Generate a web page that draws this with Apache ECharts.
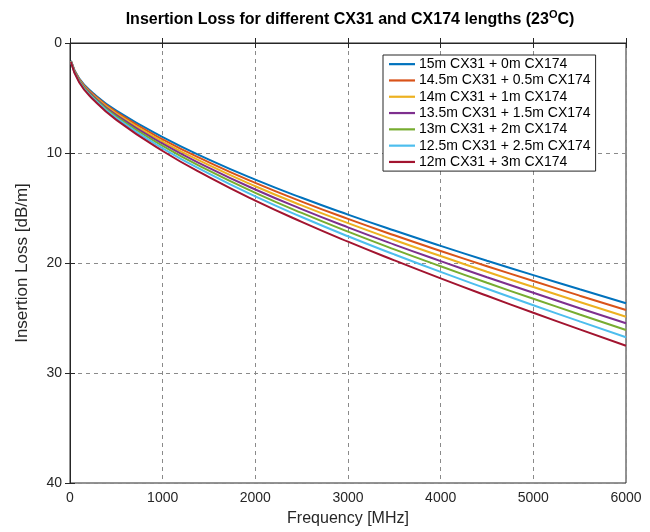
<!DOCTYPE html>
<html>
<head>
<meta charset="utf-8">
<script src="https://cdn.jsdelivr.net/npm/echarts@6/dist/echarts.min.js"></script>
<style>html,body{margin:0;padding:0;background:#fff;}#c{width:650px;height:532px;}</style>
</head>
<body>
<div id="c"></div>
<script>
const freqs = [10, 100, 250, 500, 1000, 1500, 2000, 2500, 3000, 3500, 4000, 4500, 5000, 5500, 6000];
const seriesNames = [
  '15m CX31 + 0m CX174',
  '14.5m CX31 + 0.5m CX174',
  '14m CX31 + 1m CX174',
  '13.5m CX31 + 1.5m CX174',
  '13m CX31 + 2m CX174',
  '12.5m CX31 + 2.5m CX174',
  '12m CX31 + 3m CX174'
];
const loss15_0   = [1.62, 3.24, 4.56, 6.15, 8.56, 10.60, 12.42, 14.07, 15.60, 17.05, 18.44, 19.79, 21.10, 22.39, 23.66];
const loss145_05 = [1.64, 3.30, 4.65, 6.28, 8.76, 10.85, 12.72, 14.42, 15.99, 17.48, 18.91, 20.29, 21.64, 22.97, 24.27];
const loss14_1   = [1.65, 3.35, 4.74, 6.42, 8.96, 11.11, 13.02, 14.76, 16.38, 17.91, 19.37, 20.80, 22.18, 23.54, 24.88];
const loss135_15 = [1.67, 3.41, 4.83, 6.55, 9.15, 11.35, 13.32, 15.10, 16.76, 18.33, 19.83, 21.29, 22.71, 24.11, 25.48];
const loss13_2   = [1.69, 3.46, 4.92, 6.68, 9.35, 11.61, 13.62, 15.45, 17.15, 18.76, 20.30, 21.80, 23.25, 24.68, 26.09];
const loss125_25 = [1.70, 3.52, 5.02, 6.83, 9.57, 11.88, 13.95, 15.82, 17.57, 19.22, 20.81, 22.34, 23.84, 25.31, 26.75];
const loss12_3   = [1.72, 3.59, 5.13, 6.99, 9.82, 12.20, 14.33, 16.26, 18.06, 19.76, 21.40, 22.98, 24.52, 26.03, 27.52];
const xTicks = [0, 1000, 2000, 3000, 4000, 5000, 6000];
const yTicks = [0, 10, 20, 30, 40];

const allLoss = [loss15_0, loss145_05, loss14_1, loss135_15, loss13_2, loss125_25, loss12_3];
const colors = ['#0072BD', '#D95319', '#EDB120', '#7E2F8E', '#77AC30', '#4DBEEE', '#A2142F'];

const chart = echarts.init(document.getElementById('c'));
const axisCol = '#262626';
const font = 'Liberation Sans, Arial, sans-serif';

const series = allLoss.map((vals, i) => ({
  name: seriesNames[i],
  type: 'line',
  smooth: true,
  symbol: 'none',
  data: freqs.map((f, j) => [f, vals[j]]),
  lineStyle: { width: 2, color: colors[i] },
  itemStyle: { color: colors[i] }
}));

chart.setOption({
  animation: false,
  backgroundColor: '#fff',
  title: {
    text: 'Insertion Loss for different CX31 and CX174 lengths (23{sup|O}C)',
    left: 345, top: 4, textAlign: 'center',
    textStyle: {
      fontFamily: font, fontSize: 16, fontWeight: 'bold', color: '#000',
      rich: { sup: { fontFamily: font, fontSize: 11, fontWeight: 'bold', color: '#000', verticalAlign: 'top', padding: [0, 0, 10, 0] } }
    }
  },
  grid: { left: 70, right: 24, top: 43, bottom: 49, show: true, borderColor: axisCol, borderWidth: 1, backgroundColor: 'transparent' },
  legend: {
    orient: 'vertical', left: 383, top: 55,
    data: seriesNames,
    icon: 'rect',
    backgroundColor: '#fff', borderColor: axisCol, borderWidth: 1,
    padding: [1, 5, 1, 6], itemGap: 0, itemWidth: 26, itemHeight: 2.2,
    textStyle: { fontFamily: font, fontSize: 14, color: '#000', lineHeight: 16.3, padding: [0, 0, 0, -1] }
  },
  xAxis: [{
    type: 'value', min: 0, max: 6000, interval: 1000,
    name: 'Frequency [MHz]', nameLocation: 'middle', nameGap: 28,
    nameTextStyle: { fontFamily: font, fontSize: 16, color: axisCol },
    axisLine: { show: true, lineStyle: { color: axisCol } },
    axisTick: { show: true, inside: true, length: 5, lineStyle: { color: axisCol } },
    axisLabel: { fontFamily: font, fontSize: 14, color: axisCol, margin: 8, formatter: v => String(v) },
    splitLine: { show: true, lineStyle: { type: [4, 4], color: '#8a8a8a', width: 1 } }
  }, {
    type: 'value', min: 0, max: 6000, interval: 1000, position: 'top',
    axisLine: { show: true, lineStyle: { color: axisCol } },
    axisTick: { show: true, inside: true, length: 5, lineStyle: { color: axisCol } },
    axisLabel: { show: false }, splitLine: { show: false }
  }],
  yAxis: [{
    type: 'value', min: 0, max: 40, interval: 10, inverse: true,
    name: 'Insertion Loss [dB/m]', nameLocation: 'middle', nameGap: 39,
    nameTextStyle: { fontFamily: font, fontSize: 17, color: axisCol },
    axisLine: { show: true, lineStyle: { color: axisCol } },
    axisTick: { show: true, inside: true, length: 5, lineStyle: { color: axisCol } },
    axisLabel: { fontFamily: font, fontSize: 14, color: axisCol, margin: 8 },
    splitLine: { show: true, lineStyle: { type: [4, 4], color: '#8a8a8a', width: 1 } }
  }, {
    type: 'value', min: 0, max: 40, interval: 10, inverse: true, position: 'right',
    axisLine: { show: true, lineStyle: { color: axisCol } },
    axisTick: { show: true, inside: true, length: 5, lineStyle: { color: axisCol } },
    axisLabel: { show: false }, splitLine: { show: false }
  }],
  series: series
});
</script>
</body>
</html>
